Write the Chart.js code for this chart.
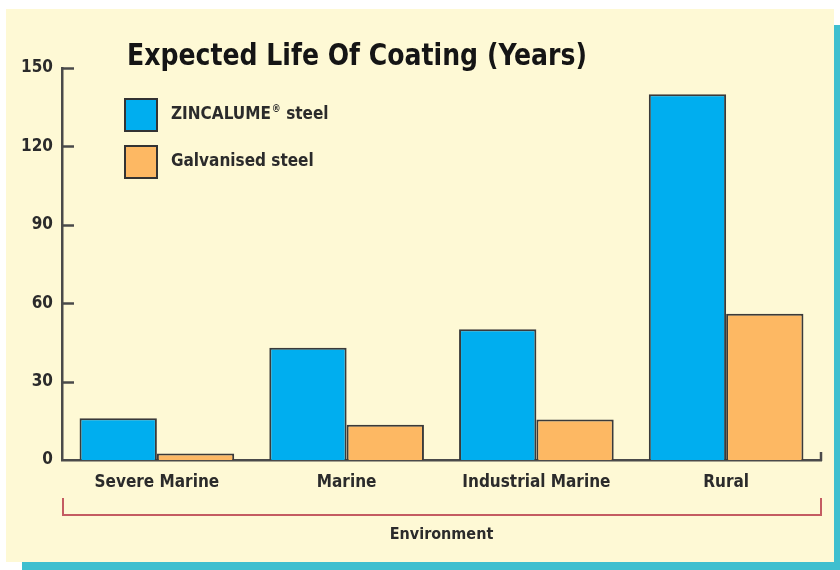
<!DOCTYPE html>
<html><head><meta charset="utf-8">
<script src="https://cdn.jsdelivr.net/npm/chart.js@4/dist/chart.umd.min.js"></script>
<style>
html,body{margin:0;padding:0;background:#fff;width:840px;height:570px;overflow:hidden}
#shadow{position:absolute;left:22px;top:25px;width:818px;height:545px;background:#3FBFCF}
#panel{position:absolute;left:6px;top:9px;width:828px;height:553px;background:#FEF9D5}
#wrap{position:absolute;left:0;top:0;width:840px;height:570px}
</style></head><body>
<div id="shadow"></div><div id="panel"></div>
<div id="wrap"><canvas id="c" width="840" height="570"></canvas></div>
<script>
const categories = ['Severe Marine', 'Marine', 'Industrial Marine', 'Rural'];
const zincalume = [16, 43, 50, 140];
const galvanised = [2.5, 13.5, 15.5, 56];
const seriesNames = ['ZINCALUME® steel', 'Galvanised steel'];
const yTicks = [0, 30, 60, 90, 120, 150];
const titleText = 'Expected Life Of Coating (Years)';
const axisTitle = 'Environment';

const FAM = '"Liberation Sans Narrow", "DejaVu Sans Condensed", "Arial Narrow", sans-serif';
const INK = '#2b2b2b';
const AXIS = '#4a4a4a';

const decor = {
  id: 'decor',
  afterDatasetsDraw(chart) {
    const ctx = chart.ctx, a = chart.chartArea, y = chart.scales.y;
    ctx.save();
    ctx.strokeStyle = AXIS; ctx.lineWidth = 2.5; ctx.lineCap = 'butt';
    y.ticks.forEach(t => {
      if (t.value === 0) return;
      const py = Math.round(y.getPixelForValue(t.value)) + 0.5;
      ctx.beginPath(); ctx.moveTo(a.left, py); ctx.lineTo(a.left + 12, py); ctx.stroke();
    });
    // right end upturn of x axis
    ctx.beginPath(); ctx.moveTo(a.right, a.bottom + 1); ctx.lineTo(a.right, a.bottom - 8); ctx.stroke();
    // bracket
    ctx.strokeStyle = '#C45C62'; ctx.lineWidth = 2;
    ctx.beginPath();
    ctx.moveTo(a.left + 1, a.bottom + 38);
    ctx.lineTo(a.left + 1, a.bottom + 55);
    ctx.lineTo(a.right, a.bottom + 55);
    ctx.lineTo(a.right, a.bottom + 38);
    ctx.stroke();
    ctx.restore();
  },
  afterDraw(chart) {
    const ctx = chart.ctx, a = chart.chartArea;
    ctx.save();
    // title (horizontally condensed)
    ctx.fillStyle = '#151515';
    ctx.font = 'bold 30px ' + FAM;
    ctx.textBaseline = 'alphabetic'; ctx.textAlign = 'left';
    const tw = ctx.measureText(titleText).width;
    const sx = 460 / tw;
    ctx.save();
    ctx.translate(127, 65); ctx.scale(sx, 1);
    ctx.fillText(titleText, 0, 0);
    ctx.restore();
    // legend
    const lx = a.left + 63;
    const rows = [115, 162];
    chart.data.datasets.forEach((ds, i) => {
      const cy = rows[i];
      ctx.fillStyle = ds.backgroundColor;
      ctx.fillRect(lx, cy - 16, 32, 32);
      ctx.strokeStyle = '#333'; ctx.lineWidth = 2;
      ctx.strokeRect(lx, cy - 16, 32, 32);
      ctx.fillStyle = INK;
      ctx.textBaseline = 'middle';
      let x = lx + 46;
      const parts = ds.label.split('®');
      ctx.font = 'bold 17px ' + FAM;
      ctx.fillText(parts[0], x, cy);
      x += ctx.measureText(parts[0]).width;
      if (parts.length > 1) {
        ctx.font = 'bold 10px ' + FAM;
        ctx.fillText('®', x + 1, cy - 6);
        x += ctx.measureText('®').width + 1;
        ctx.font = 'bold 17px ' + FAM;
        ctx.fillText(parts[1], x, cy);
      }
    });
    ctx.restore();
  }
};

new Chart(document.getElementById('c'), {
  type: 'bar',
  data: {
    labels: categories,
    datasets: [
      { label: seriesNames[0], data: zincalume, backgroundColor: '#00AEEF', borderColor: '#3a3a3a', borderWidth: 2 },
      { label: seriesNames[1], data: galvanised, backgroundColor: '#FDB863', borderColor: '#3a3a3a', borderWidth: 2 }
    ]
  },
  options: {
    responsive: false,
    animation: false,
    devicePixelRatio: 1,
    layout: { padding: { top: 68, right: 19, bottom: 22, left: 0 } },
    categoryPercentage: 0.815,
    barPercentage: 1,
    plugins: { legend: { display: false }, title: { display: false }, tooltip: { enabled: false } },
    scales: {
      x: {
        offset: true,
        grid: { display: false, drawTicks: false },
        border: { display: true, color: AXIS, width: 2.5 },
        ticks: { color: INK, padding: 12, font: { family: FAM, size: 17, weight: 'bold' } },
        title: { display: true, text: axisTitle, color: INK, padding: { top: 0, bottom: 4 }, font: { family: FAM, size: 16, weight: 'bold' } },
        afterFit(s) { s.height = 88; }
      },
      y: {
        min: 0, max: 150,
        afterBuildTicks(s) { s.ticks = yTicks.map(v => ({ value: v })); },
        grid: { display: false, drawTicks: false },
        border: { display: true, color: AXIS, width: 2.5 },
        ticks: { color: INK, padding: 9, font: { family: FAM, size: 17, weight: 'bold' } },
        afterFit(s) { s.width = 62; }
      }
    }
  },
  plugins: [decor]
});
</script>
</body></html>
